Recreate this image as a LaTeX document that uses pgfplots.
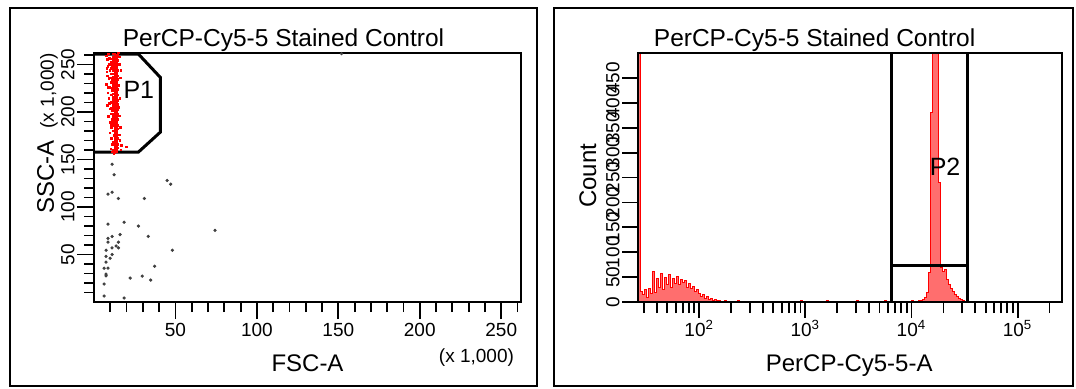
\documentclass[border=0pt]{standalone}
\usepackage{fontspec}
\setmainfont{Liberation Sans}
\usepackage{pgfplots}
\pgfplotsset{compat=1.18}
\definecolor{histfill}{RGB}{255,110,110}
\begin{document}
\begin{tikzpicture}
\begin{scope}[x=1pt,y=1pt]
\path[use as bounding box, fill=white] (0,0) rectangle (538,-194);
\draw[line width=1pt] (5,-4) rectangle (268.5,-193);
\draw[line width=1pt] (277,-4) rectangle (536.5,-193);
\end{scope}
% ---------------- left panel ----------------
\begin{axis}[
  at={(47pt,-151pt)}, anchor=south west,
  width=213.5pt, height=124.5pt, scale only axis,
  xmin=0, xmax=262.144, ymin=0, ymax=262.144,
  axis line style={line width=1pt},
  axis on top,
  tick align=outside, tick pos=left,
  xtick={50,100,150,200,250}, minor xtick={10,20,...,260},
  ytick={50,100,150,200,250}, minor ytick={10,20,...,260},
  major tick length=8.5pt, minor tick length=5pt,
  tick style={black, line width=0.9pt},
  tick label style={font=\fontsize{9.5}{10}\selectfont},
  /pgf/number format/assume math mode=true,
  yticklabel style={rotate=90, anchor=south, inner sep=1pt},
  xticklabel style={inner sep=2pt},
]
\addplot[only marks, mark=*, mark size=0.6pt, black!75] coordinates {
(11.1,145) (12.3,134) (8.6,113.5) (11.1,115.6) (15.0,109) (30.9,109) (44.9,128) (47.1,124)
(8.6,82) (18.5,84) (27.3,80) (33.3,69) (74.3,75.5) (11.1,69) (8.6,67) (8.6,63) (16.0,71)
(15.0,63) (13.6,59) (15.0,57) (11.1,57) (7.4,54.5) (11.1,50) (7.4,48) (9.9,46) (7.4,42)
(48.1,54.5) (6.2,35.6) (8.6,35.6) (37.2,37.7) (7.4,29.4) (7.4,27.6) (22.2,25.2) (29.6,27.3)
(34.8,23.1) (6.2,18.9) (6.2,6.3) (18.5,4.2) (152,261.5)
};
\addplot[only marks, mark=square*, mark size=0.4pt, draw=red, fill=red,
  mark options={draw=red, fill=red, line width=0pt}] coordinates {
(13.0,157) (13.2,159) (12.9,161) (13.1,163) (13.0,165) (12.8,167) (13.2,169) (13.0,171) (12.9,173)
(13.1,175) (13.0,177) (13.3,179) (12.9,181) (13.0,183) (13.1,185) (12.8,187) (13.0,189) (13.2,191)
(12.9,193) (13.0,195) (13.1,197) (12.8,199) (13.0,201) (13.2,203) (12.9,205) (13.0,207) (13.1,209)
(12.9,211) (13.0,213) (13.2,215) (12.8,217) (13.0,219) (13.1,221) (12.9,223) (13.0,225) (13.2,227)
(12.9,229) (13.0,231) (13.1,233) (12.8,235) (13.0,237) (13.2,239) (12.9,241) (13.0,243) (13.1,245)
(12.9,247) (13.0,249) (13.2,251) (12.8,253) (13.0,255) (13.1,257) (12.9,259) (13.0,261)
(14.2,158) (14.0,160) (14.3,162) (14.1,164) (14.4,166) (14.2,168) (14.0,170) (14.3,172) (14.2,174)
(14.5,176) (14.1,178) (14.2,180) (14.4,182) (14.0,184) (14.3,186) (14.2,188) (14.1,190) (14.5,192)
(14.2,194) (14.0,196) (14.3,198) (14.2,200) (14.4,202) (14.1,204) (14.2,206) (14.5,208) (14.0,210)
(14.3,212) (14.2,214) (14.1,216) (14.4,218) (14.2,220) (14.0,222) (14.3,224) (14.2,226) (14.5,228)
(14.1,230) (14.2,232) (14.4,234) (14.0,236) (14.3,238) (14.2,240) (14.1,242) (14.5,244) (14.2,246)
(14.0,248) (14.3,250) (14.2,252) (14.4,254) (14.1,256) (14.2,258) (14.3,260)
(11.8,186) (11.6,189) (11.9,192) (11.7,195) (11.8,198) (11.5,201) (11.9,204) (11.7,207) (11.8,210)
(11.6,213) (11.9,216) (11.7,219) (11.8,222) (11.5,225) (11.9,228) (11.7,231) (11.8,234) (11.6,237)
(11.9,240) (11.7,243) (11.8,246) (11.5,249) (11.9,252) (11.7,255) (11.8,258) (11.6,261)
(7.5,259) (8.4,255) (9.6,257) (10.6,252) (8.7,248) (7.9,246) (9.9,244) (10.9,240) (8.3,238)
(9.2,235) (10.4,231) (7.6,229) (9.7,226) (11.0,222) (8.6,220) (9.3,214) (10.5,210) (8.2,207)
(10.0,203) (10.8,198) (9.0,195) (10.2,189) (10.9,183) (9.8,178) (10.7,172) (11.2,166) (10.4,161)
(11.5,158) (15.6,250) (16.2,236) (15.4,228) (16.0,214) (15.3,205) (15.8,196) (16.4,184) (15.5,176)
(15.9,170) (17.0,165) (19.8,163) (16.6,160) (15.2,262) (15.8,258) (16.5,244) (12.2,175) (11.9,168)
(12.0,180) (10.2,256) (8.9,261) (9.4,250) (10.9,246) (8.1,242) (10.1,236) (11.1,233) (10.6,218)
(8.8,226) (9.5,209) (10.9,204) (11.3,192) (10.5,186) (12.1,160) (12.3,156)
};
\draw[line width=1.5pt] (axis cs:0,261) -- (axis cs:27.3,261) -- (axis cs:40.7,236.5)
  -- (axis cs:40.7,178.8) -- (axis cs:27.3,157.9) -- (axis cs:0,157.9);
\node[font=\fontsize{12.5}{13}\selectfont] at (axis cs:27.5,223) {P1};
\end{axis}
% ---------------- right panel ----------------
\begin{axis}[
  at={(318.75pt,-151pt)}, anchor=south west,
  width=212.25pt, height=124.5pt, scale only axis,
  xmode=log, xmin=26.2144, xmax=262144, ymin=0, ymax=500,
  axis line style={line width=1pt},
  axis on top,
  tick align=outside, tick pos=left,
  xtick={100,1000,10000,100000},
  xticklabels={10\textsuperscript{2},10\textsuperscript{3},10\textsuperscript{4},10\textsuperscript{5}},
  minor xtick={30,40,50,60,70,80,90,200,300,400,500,600,700,800,900,2000,3000,4000,5000,6000,7000,8000,9000,20000,30000,40000,50000,60000,70000,80000,90000,200000},
  ytick={0,50,100,150,200,250,300,350,400,450},
  major tick length=7.75pt, minor tick length=5.5pt,
  tick style={black, line width=0.9pt},
  tick label style={font=\fontsize{9.5}{10}\selectfont},
  /pgf/number format/assume math mode=true,
  yticklabel style={rotate=90, anchor=south, inner sep=1pt},
  xticklabel style={inner sep=1pt},
]
\addplot[const plot mark left, draw=red, line width=0.5pt, fill=histfill] table {
x y
26.4 800
27.78 22
29.01 15
30.30 25
31.65 10
33.05 28
34.52 18
36.05 62
37.65 20
39.32 48
41.07 30
42.89 58
44.80 25
46.79 50
48.86 35
51.03 55
53.30 30
55.66 48
58.14 38
60.72 52
63.41 35
66.23 45
69.17 40
72.24 43
75.45 30
78.80 38
82.29 28
85.95 32
89.76 22
93.75 25
97.91 18
102.3 12
106.8 16
111.5 8
116.5 12
121.7 6
127.1 8
132.7 4
138.6 6
144.8 3
151.2 3
157.9 2
164.9 2
172.2 3
179.9 1
187.9 1
196.2 0
228 3
238 0
530 2
553 0
721 2
753 0
896 3
936 0
1020 2
1065 0
1162 2
1214 0
1574 3
1644 0
1956 2
2043 0
2540 2
2653 0
3020 3
3154 0
3753 2
3920 0
4466 2
4664 0
5546 3
5792 0
8730 2
9120 0
10100 3
10550 0
11100 2
11590 3
12110 4
12650 6
13210 10
13790 20
14410 60
15050 380
15720 560
16410 600
17140 540
17900 240
18700 70
19530 62
20390 66
21300 45
22240 36
23230 28
24260 22
25340 16
26460 12
27640 8
28860 6
30150 4
31490 2
32880 0
} \closedcycle;
\draw[line width=1.5pt] (axis cs:6550,0) -- (axis cs:6550,500);
\draw[line width=1.5pt] (axis cs:33800,0) -- (axis cs:33800,500);
\draw[line width=1.5pt] (axis cs:6550,73) -- (axis cs:33800,73);
\node[font=\fontsize{12.5}{13}\selectfont] at (axis cs:20740,271) {P2};
\end{axis}
\begin{scope}[x=1pt,y=1pt]
\node[font=\fontsize{12.25}{14}\selectfont, anchor=base] at (141.75,-23.3) {PerCP-Cy5-5 Stained Control};
\node[font=\fontsize{12}{14}\selectfont, anchor=base] at (153.75,-185.8) {FSC-A};
\node[font=\fontsize{9.5}{11}\selectfont, anchor=base east] at (260.5,-181) {(x 1,000)};
\node[rotate=90, anchor=base east, inner sep=0pt] at (26.9,-26.5)
  {\fontsize{12}{14}\selectfont SSC-A\hspace{6pt}\fontsize{9.5}{11}\selectfont(x 1,000)};
\node[font=\fontsize{12.25}{14}\selectfont, anchor=base] at (407.3,-23.3) {PerCP-Cy5-5 Stained Control};
\node[font=\fontsize{12}{14}\selectfont, anchor=base] at (424.6,-185.8) {PerCP-Cy5-5-A};
\node[rotate=90, font=\fontsize{12}{14}\selectfont] at (293.95,-87.9) {Count};
\end{scope}
\end{tikzpicture}
\end{document}
